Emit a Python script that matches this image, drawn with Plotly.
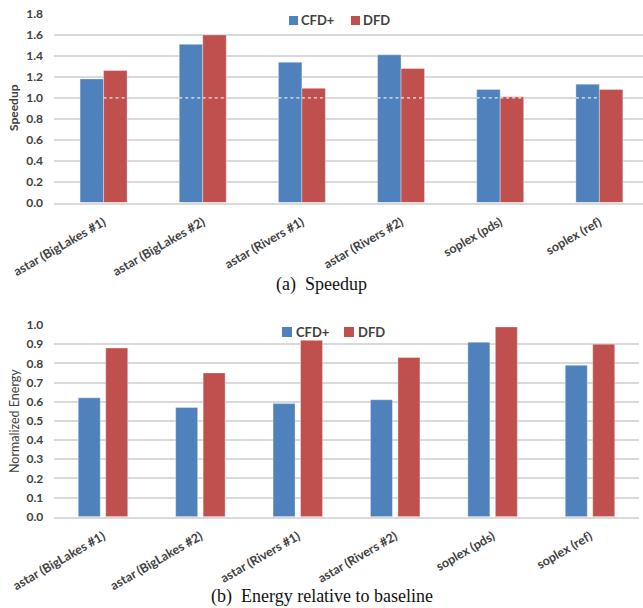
import plotly.graph_objects as go

# Benchmarks (shared by both panels)
categories = [
    "astar (BigLakes #1)",
    "astar (BigLakes #2)",
    "astar (Rivers #1)",
    "astar (Rivers #2)",
    "soplex (pds)",
    "soplex (ref)",
]
series_names = ["CFD+", "DFD"]

# Panel (a): speedup
speedup_cfd = [1.18, 1.51, 1.34, 1.41, 1.08, 1.13]
speedup_dfd = [1.26, 1.60, 1.09, 1.28, 1.01, 1.08]

# Panel (b): energy normalised to baseline
energy_cfd = [0.62, 0.57, 0.59, 0.61, 0.91, 0.79]
energy_dfd = [0.88, 0.75, 0.92, 0.83, 0.99, 0.90]

speedup_ticks = [0.0, 0.2, 0.4, 0.6, 0.8, 1.0, 1.2, 1.4, 1.6, 1.8]
energy_ticks = [0.0, 0.1, 0.2, 0.3, 0.4, 0.5, 0.6, 0.7, 0.8, 0.9, 1.0]

# Bars that carry the dotted 1.0 baseline marker in panel (a): (category, series)
baseline_marks = [(0, 1), (1, 0), (1, 1), (2, 0), (2, 1), (3, 0), (3, 1),
                  (4, 0), (4, 1), (5, 0)]

W, H = 643, 608
BLUE = "#4F81BD"
RED = "#C0504D"
TXT = "#404040"
GRID = "#D9D9D9"
FONT = "Lato"
SERIF = "Liberation Serif, DejaVu Serif, Times New Roman, serif"
colors = [BLUE, RED]

fig = go.Figure()

# --- panel (a) bars: adjacent, no gap inside a group
a_width = 0.237
a_offsets = [-a_width, 0.0]
for k, (name, vals) in enumerate(zip(series_names, [speedup_cfd, speedup_dfd])):
    fig.add_trace(go.Bar(
        x=categories, y=vals, name=name, xaxis="x", yaxis="y",
        width=a_width, offset=a_offsets[k],
        marker=dict(color=colors[k], line=dict(color="rgba(255,255,255,0.35)", width=1)),
        showlegend=False,
    ))

# --- panel (b) bars: small gap between the two bars
b_width = 0.226
b_offsets = [-0.254, 0.028]
for k, (name, vals) in enumerate(zip(series_names, [energy_cfd, energy_dfd])):
    fig.add_trace(go.Bar(
        x=categories, y=vals, name=name, xaxis="x2", yaxis="y2",
        width=b_width, offset=b_offsets[k],
        marker=dict(color=colors[k], line=dict(color="rgba(255,255,255,0.35)", width=1)),
        showlegend=False,
    ))

shapes = []
# dotted white baseline at speedup = 1.0 across the marked bars
for ci, si in baseline_marks:
    x0 = ci + a_offsets[si]
    shapes.append(dict(type="line", xref="x", yref="y", x0=x0, x1=x0 + a_width,
                       y0=1.0, y1=1.0,
                       line=dict(color="rgba(255,255,255,0.85)", width=1.2, dash="dot"),
                       layer="above"))

annotations = []


def px_x(v):
    return v / W


def px_y(v):
    return 1 - v / H


# hand-placed legends for each panel
def add_legend(sq_x, txt_x, yc, size, fsize):
    for k, name in enumerate(series_names):
        shapes.append(dict(type="rect", xref="paper", yref="paper",
                           x0=px_x(sq_x[k]), x1=px_x(sq_x[k] + size),
                           y0=px_y(yc + size / 2), y1=px_y(yc - size / 2),
                           fillcolor=colors[k], line=dict(width=0)))
        annotations.append(dict(text=name, xref="paper", yref="paper",
                                x=px_x(txt_x[k]), y=px_y(yc), xanchor="left", yanchor="middle",
                                showarrow=False,
                                font=dict(family=FONT, size=fsize, color=TXT, weight="bold")))


add_legend([289, 351], [299, 361], 20.5, 9, 13)
add_legend([282, 344], [294, 356], 332, 10, 13)

# axis titles
annotations.append(dict(text="Speedup", xref="paper", yref="paper", x=px_x(14), y=px_y(108),
                        xanchor="center", yanchor="middle", textangle=-90, showarrow=False,
                        font=dict(family=FONT, size=12, color=TXT, weight="bold")))
annotations.append(dict(text="Normalized Energy", xref="paper", yref="paper", x=px_x(14), y=px_y(421),
                        xanchor="center", yanchor="middle", textangle=-90, showarrow=False,
                        font=dict(family=FONT, size=12.5, color=TXT)))

# panel captions
annotations.append(dict(text="(a)  Speedup", xref="paper", yref="paper", x=px_x(321.5), y=px_y(284),
                        xanchor="center", yanchor="middle", showarrow=False,
                        font=dict(family=SERIF, size=18, color="#111111")))
annotations.append(dict(text="(b)  Energy relative to baseline", xref="paper", yref="paper",
                        x=px_x(321.5), y=px_y(596), xanchor="center", yanchor="middle",
                        showarrow=False,
                        font=dict(family=SERIF, size=18, color="#111111")))

tickfont = dict(family=FONT, size=12, color=TXT, weight="bold")
xtickfont = dict(family=FONT, size=12.5, color=TXT, weight="bold")

common_y = dict(showgrid=True, gridcolor=GRID, gridwidth=1.5, zeroline=False,
                showline=False, tickfont=tickfont, ticks="", ticklabelstandoff=10,
                tickformat=".1f", fixedrange=True, automargin=False)
common_x = dict(type="category", showgrid=False, zeroline=False, showline=True,
                linecolor=GRID, linewidth=1.5, ticks="", tickangle=-30, tickfont=xtickfont,
                ticklabelstandoff=6,
                categoryorder="array", categoryarray=categories, automargin=False)

fig.update_layout(
    template="none",
    width=W, height=H,
    margin=dict(l=0, r=0, t=0, b=0, autoexpand=False),
    paper_bgcolor="white", plot_bgcolor="white",
    barmode="group",
    font=dict(family=FONT, color=TXT),
    xaxis=dict(common_x, domain=[px_x(54), 1.0], range=[-0.5, 5.44], anchor="y"),
    yaxis=dict(common_y, domain=[px_y(202.5), px_y(14)], range=[0, 1.8],
               tickvals=speedup_ticks, anchor="x"),
    xaxis2=dict(common_x, domain=[px_x(54.3), px_x(638.7)], range=[-0.5, 5.5], anchor="y2"),
    yaxis2=dict(common_y, domain=[px_y(516.7), px_y(325)], range=[0, 1.0],
                tickvals=energy_ticks, anchor="x2"),
    shapes=shapes,
    annotations=annotations,
    showlegend=False,
)

fig.write_html("out.html")
